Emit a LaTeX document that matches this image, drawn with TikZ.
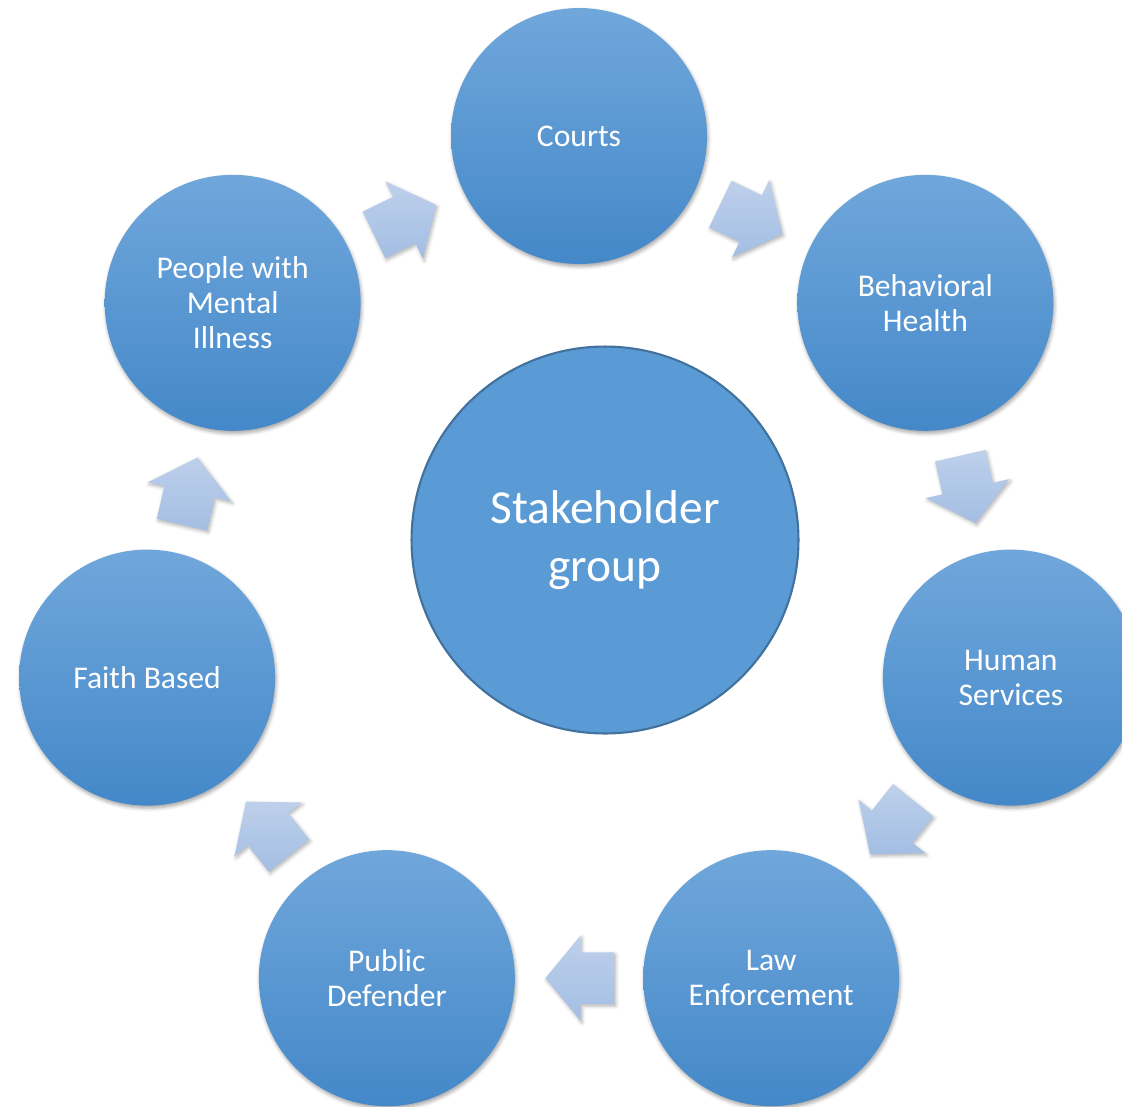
\documentclass[tikz,border=0pt]{standalone}
\usepackage{fontspec}
\setmainfont{Carlito}
\usetikzlibrary{shapes.arrows,calc,shadows.blur}

\definecolor{ringtop}{RGB}{112,167,219}
\definecolor{ringbot}{RGB}{68,136,201}
\definecolor{hubfill}{RGB}{91,155,213}
\definecolor{hubline}{RGB}{65,113,156}
\definecolor{arrtop}{RGB}{190,208,235}
\definecolor{arrbot}{RGB}{163,190,227}

\begin{document}
\begin{tikzpicture}[x=0.02cm, y=0.02cm, inner sep=0pt]% 1 unit = 1px
\tikzstyle{ring}=[circle, minimum size=5.12cm, top color=ringtop, bottom color=ringbot, text=white, align=center, font=\fontsize{18}{19.8}\selectfont, blur shadow={shadow xshift=0.6pt, shadow yshift=-1.5pt, shadow blur radius=2pt, shadow opacity=35}]
\tikzstyle{flow}=[single arrow, inner xsep=0pt, inner ysep=0.51cm, minimum height=1.38cm, single arrow head extend=0.34cm, single arrow tip angle=101, top color=arrtop, bottom color=arrbot, blur shadow={shadow xshift=0.8pt, shadow yshift=-1.2pt, shadow blur radius=2pt, shadow opacity=30}]
\useasboundingbox (0,0) rectangle (1122,-1106);
\clip (0,0) rectangle (1122,-1106);
\coordinate (hub) at (579,-579);

\node[ring] (courts) at ($(hub)+(90:443)$) {Courts};
\node[ring] (behav) at ($(hub)+(38.57:443)$) {Behavioral\\Health};
\node[ring] (humsrv) at ($(hub)+(-12.86:443)$) {Human\\Services};
\node[ring] (lawenf) at ($(hub)+(-64.29:443)$) {Law\\Enforcement};
\node[ring] (pubdef) at ($(hub)+(-115.71:443)$) {Public\\Defender};
\node[ring] (faith) at ($(hub)+(-167.14:443)$) {Faith Based};
\node[ring] (people) at ($(hub)+(141.43:443)$) {People with\\Mental\\Illness};

%block arrows round the ring
\foreach \a/\b/\r [count=\i] in {people/courts/25.71, courts/behav/-25.71, behav/humsrv/-77.14, humsrv/lawenf/-128.57, lawenf/pubdef/180, pubdef/faith/128.57, faith/people/77.14}
  \node[flow, rotate=\r] (f\i) at ($(\a)!0.47!(\b)$) {};

\node[circle, minimum size=7.74cm, fill=hubfill, draw=hubline, line width=1.2pt, text=white, align=center, font=\fontsize{27}{33}\selectfont] (stake) at (605,-540) {Stakeholder\\group};

\end{tikzpicture}
\end{document}
